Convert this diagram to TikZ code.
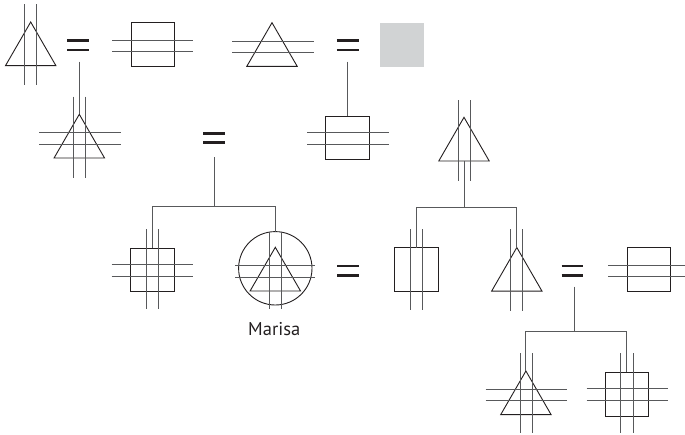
\documentclass[tikz,border=0pt]{standalone}
\usepackage{fontspec}
\setmainfont{PT Sans}
\usetikzlibrary{shapes.geometric}
\definecolor{ink}{HTML}{231F20}
\definecolor{bargray}{HTML}{58595B}
\definecolor{fillgray}{HTML}{D1D3D4}
\begin{document}
\begin{tikzpicture}[x=1pt,y=-1pt,
  outl/.style={draw=ink,line width=0.9pt},
  tri/.style={outl,regular polygon,regular polygon sides=3,minimum size=58.2pt,inner sep=0pt,outer sep=0pt},
  sq/.style={outl,rectangle,minimum width=43.5pt,minimum height=43.7pt,inner sep=0pt,outer sep=0pt},
  graysq/.style={rectangle,fill=fillgray,minimum width=44pt,minimum height=44pt,inner sep=0pt,outer sep=0pt},
  circ/.style={outl,circle,minimum size=73.4pt,inner sep=0pt,outer sep=0pt},
  eqn/.style={rectangle,minimum width=21.6pt,minimum height=9.5pt,inner sep=0pt,outer sep=0pt},
  eqbar/.style={draw=ink,line width=2.7pt},
  cross/.style={draw=bargray,line width=0.9pt},
  conn/.style={draw=bargray,line width=0.9pt},
  lbl/.style={inner sep=0pt,anchor=base,font=\fontsize{18.5}{20}\selectfont,text=ink}]
\useasboundingbox (0,0) rectangle (685,434);

% ---------- row 1 ----------
\node[tri] (t1) at (30.7,51.1) {};
\draw[cross] (24.4,4) -- (24.4,85.3) (36.8,4) -- (36.8,85.3);
\node[eqn] (e1) at (78.2,45.3) {};
\draw[eqbar] (e1.north west) -- (e1.north east) (e1.south west) -- (e1.south east);
\coordinate (e1d) at (79.3,61.7);

\node[sq] (r2) at (152.7,44.7) {};
\draw[cross] (112,40.2) -- (193.3,40.2) (112,51.7) -- (193.3,51.7);

\node[tri] (t3) at (272,51.8) {};
\draw[cross] (232,41) -- (314,41) (232,52.7) -- (314,52.7);
\node[eqn] (e2) at (347.7,45.3) {};
\draw[eqbar] (e2.north west) -- (e2.north east) (e2.south west) -- (e2.south east);
\coordinate (e2d) at (347.5,61.7);
\node[graysq] (g1) at (402,44.7) {};

% ---------- row 2 ----------
\node[tri] (t4) at (79.3,143.4) {};
\draw[cross] (73.3,96.7) -- (73.3,178.3) (85.3,96.7) -- (85.3,178.3);
\draw[cross] (39,132.3) -- (121,132.3) (39,144.3) -- (121,144.3);
\draw[conn] (e1d) -- (t4.corner 1);

\node[eqn] (e3) at (214.2,138) {};
\draw[eqbar] (e3.north west) -- (e3.north east) (e3.south west) -- (e3.south east);
\coordinate (e3d) at (214.7,157.3);

\node[sq] (r5) at (347.5,138) {};
\draw[cross] (307.3,132.3) -- (388.7,132.3) (307.3,144) -- (388.7,144);
\draw[conn] (e2d) -- (r5.north);

\node[tri] (t6) at (464,146.4) {};
\draw[cross] (458.2,100) -- (458.2,180.7) (470.5,100) -- (470.5,180.7);

% ---------- row 3 ----------
\coordinate (b1) at (214.7,206.3);
\draw[conn] (e3d) -- (b1);
\node[sq] (r7) at (152.3,270) {};
\draw[cross] (146,229.3) -- (146,309.3) (158.3,229.3) -- (158.3,309.3);
\draw[cross] (111.7,264) -- (193.3,264) (111.7,276) -- (193.3,276);

\node[circ] (c1) at (275.3,268.3) {};
\node[tri] (t7) at (275.3,276.4) {};
\draw[cross] (269.2,231.7) -- (269.2,309.3) (281.2,231.7) -- (281.2,309.3);
\draw[cross] (235,265) -- (315,265) (235,277.3) -- (315,277.3);
\node[lbl] (m1) at (274.2,335) {Marisa};
\draw[conn] (r7.north) |- (b1) -| (c1.north);

\node[eqn] (e4) at (348.2,270.6) {};
\draw[eqbar] (e4.north west) -- (e4.north east) (e4.south west) -- (e4.south east);

\coordinate (b2) at (464,207.5);
\draw[conn] (t6.south) -- (b2);
\node[sq] (r8) at (416.2,269.5) {};
\draw[cross] (410,229.3) -- (410,310) (422,229.3) -- (422,310);

\node[tri] (t9) at (516.8,276.6) {};
\draw[cross] (510.7,229.3) -- (510.7,310.5) (522.9,229.3) -- (522.9,310.5);
\draw[conn] (r8.north) |- (b2) -| (t9.corner 1);

\node[eqn] (e5) at (572.5,270.8) {};
\draw[eqbar] (e5.north west) -- (e5.north east) (e5.south west) -- (e5.south east);
\coordinate (e5d) at (574,286.5);

\node[sq] (r10) at (648.7,269.7) {};
\draw[cross] (608.3,265) -- (685,265) (608.3,276.7) -- (685,276.7);

% ---------- row 4 ----------
\coordinate (b3) at (574,331.7);
\draw[conn] (e5d) -- (b3);
\node[tri] (t11) at (525.9,400.1) {};
\draw[cross] (520,353.3) -- (520,433.3) (532,353.3) -- (532,433.3);
\draw[cross] (485.7,389) -- (566.7,389) (485.7,400.7) -- (566.7,400.7);

\node[sq] (r12) at (626.7,394.2) {};
\draw[cross] (620.7,353.3) -- (620.7,433) (633.3,353.3) -- (633.3,433);
\draw[cross] (586.7,388.3) -- (667.7,388.3) (586.7,400) -- (667.7,400);
\draw[conn] (t11.corner 1) |- (b3) -| (r12.north);
\end{tikzpicture}
\end{document}
